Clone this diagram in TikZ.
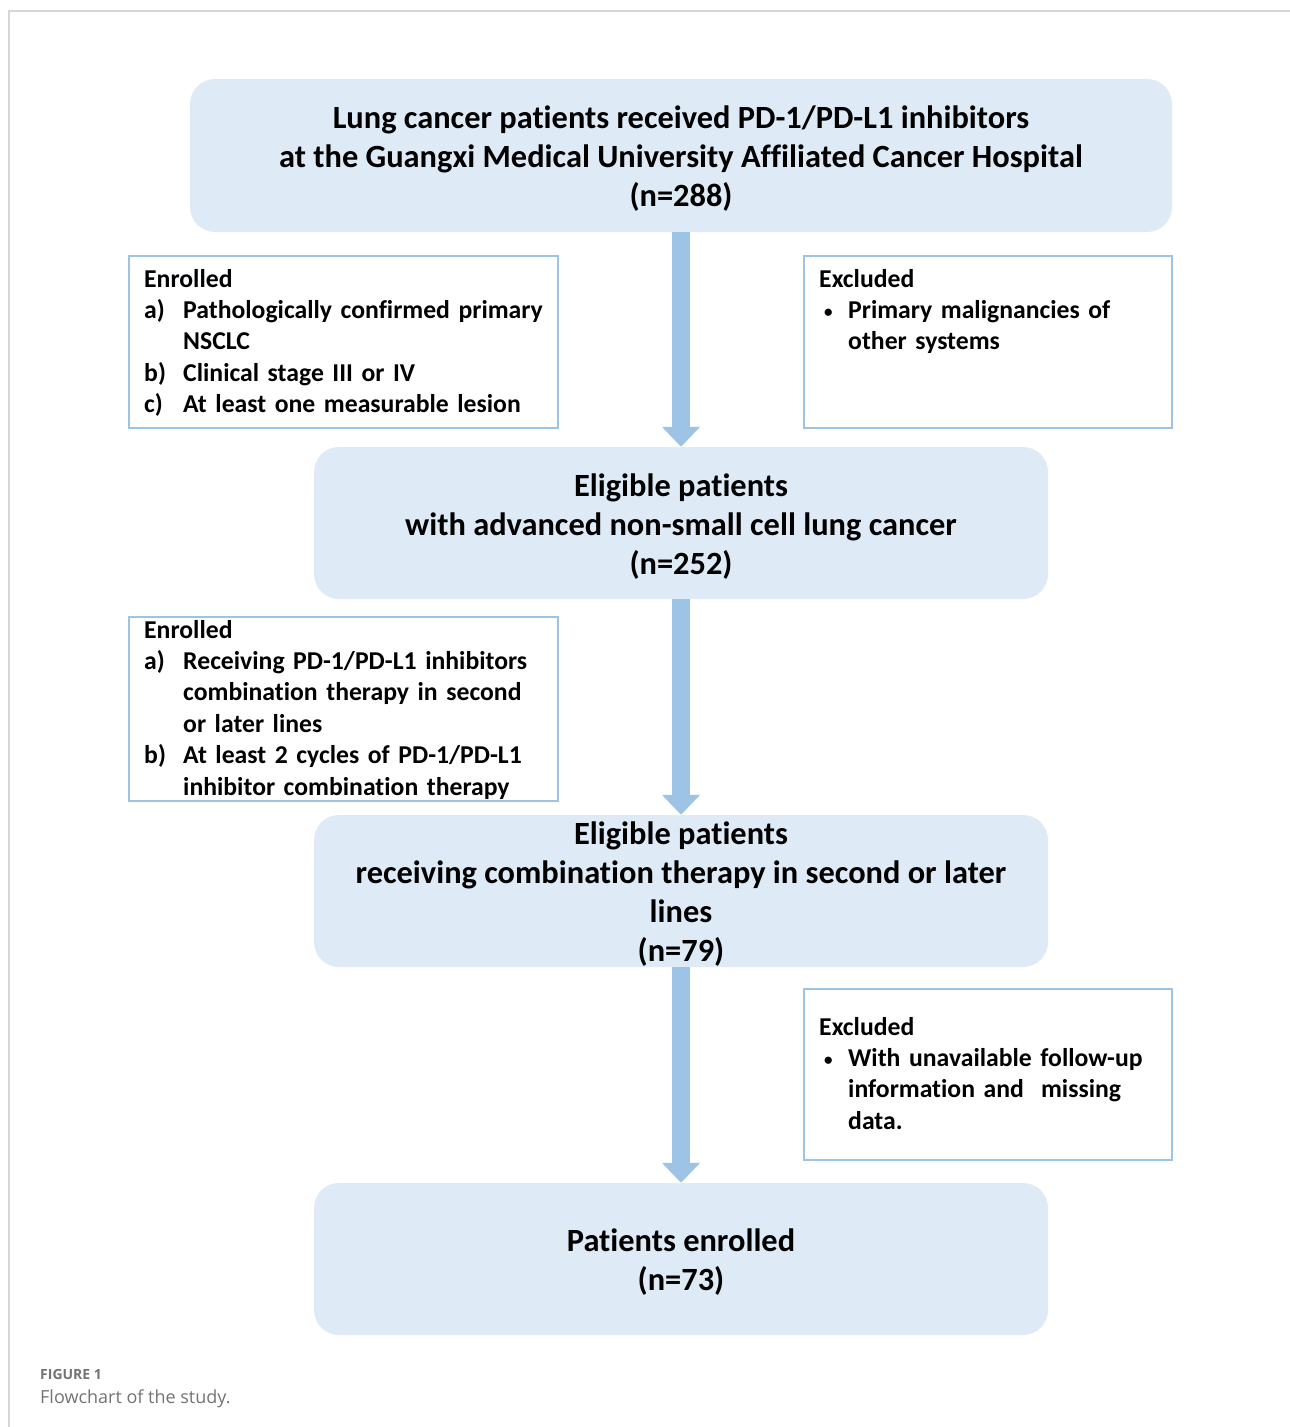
\documentclass[tikz,border=0pt]{standalone}
\usepackage{fontspec}
\setmainfont{Carlito}[Ligatures=NoCommon]
\newfontfamily\capfont{Open Sans}
\usetikzlibrary{arrows.meta,positioning}

\definecolor{boxfill}{RGB}{222,234,246}
\definecolor{arrowblue}{RGB}{157,195,230}
\definecolor{framegray}{RGB}{214,214,214}
\definecolor{capgray}{RGB}{115,115,115}

% one list entry with a hanging label
\newcommand{\listline}[3]{\par\hangindent=#1\hangafter=1\noindent\makebox[#1][l]{#2}#3\par}
\newcommand{\smallbullet}{\hspace{5pt}\raisebox{1pt}{\fontsize{17}{17}\selectfont\textbullet}}
\newcommand{\topgap}{\rule{0pt}{29pt}}

\tikzset{
  mainbox/.style={rectangle,rounded corners=25pt,fill=boxfill,inner sep=0pt,align=center,
    minimum width=734pt,minimum height=152pt,font=\fontsize{32.4}{39}\selectfont\bfseries},
  sidebox/.style={rectangle,draw=arrowblue,line width=2pt,inner sep=0pt},
  sidetext/.style={anchor=base west,inner sep=0pt,align=left,
    font=\fontsize{25.7}{31.4}\selectfont\bfseries},
  bigarrow/.style={arrowblue,line width=18pt,-{Triangle[width=37pt,length=20pt]}}
}

\begin{document}
\begin{tikzpicture}[x=1pt,y=-1pt]

    \useasboundingbox (0,0) rectangle (1290,1427);

    % page frame (top and left only)
    \draw[framegray,line width=1.5pt] (9,1427) -- (9,11) -- (1290,11);

    % Main flow boxes
    \node[mainbox,minimum width=982pt,minimum height=153pt] (top) at (681,155.5)
      {\topgap Lung cancer patients received PD-1/PD-L1 inhibitors\\at the Guangxi Medical University Affiliated Cancer Hospital\\(n=288)};
    \node[mainbox] (elig) at (681,523)
      {\topgap Eligible patients\\with advanced non-small cell lung cancer\\(n=252)};
    \node[mainbox] (comb) at (681,891)
      {\topgap Eligible patients\\receiving combination therapy in second or later\\lines\\(n=79)};
    \node[mainbox] (final) at (681,1259)
      {\topgap Patients enrolled\\(n=73)};

    % Arrows between the main boxes
    \foreach \a/\b in {top/elig,elig/comb,comb/final} {%
      \draw[bigarrow] (\a) -- (\b);
    }

    % Criteria boxes
    \node[sidebox,minimum width=429pt,minimum height=172pt] (enrA) at (343.5,342) {};
    \node[sidebox,minimum width=368pt,minimum height=172pt] (excA) at (988,342) {};
    \node[sidebox,minimum width=429pt,minimum height=184pt] (enrB) at (343.5,709) {};
    \node[sidebox,minimum width=368pt,minimum height=171pt] (excB) at (988,1074.5) {};

    % Criteria texts
    \node[sidetext,text width=405pt] (enrAtxt) at ([shift={(16,32)}]enrA.north west)
      {Enrolled
       \listline{39pt}{a)}{Pathologically confirmed primary\newline NSCLC}
       \listline{39pt}{b)}{Clinical stage III or IV}
       \listline{39pt}{c)}{At least one measurable lesion}};
    \node[sidetext,text width=345pt] (excAtxt) at ([shift={(16,32)}]excA.north west)
      {Excluded
       \listline{29pt}{\smallbullet}{Primary malignancies of\newline other systems}};
    \node[sidetext,text width=405pt] (enrBtxt) at ([shift={(16,22)}]enrB.north west)
      {Enrolled
       \listline{39pt}{a)}{Receiving PD-1/PD-L1 inhibitors\newline combination therapy in second\newline or later lines}
       \listline{39pt}{b)}{At least 2 cycles of PD-1/PD-L1\newline inhibitor combination therapy}};
    \node[sidetext,text width=345pt] (excBtxt) at ([shift={(16,47)}]excB.north west)
      {Excluded
       \listline{29pt}{\smallbullet}{With unavailable follow-up\newline information and\ \ missing\newline data.}};

    % Caption
    \node[anchor=base west,inner sep=0pt,text=capgray,font=\capfont\fontsize{14}{16}\selectfont\bfseries]
      (capnum) at (40,1379) {FIGURE 1};
    \node[anchor=base west,inner sep=0pt,text=capgray,font=\capfont\fontsize{18}{20}\selectfont]
      (captxt) at (40,1403) {Flowchart of the study.};

\end{tikzpicture}
\end{document}
